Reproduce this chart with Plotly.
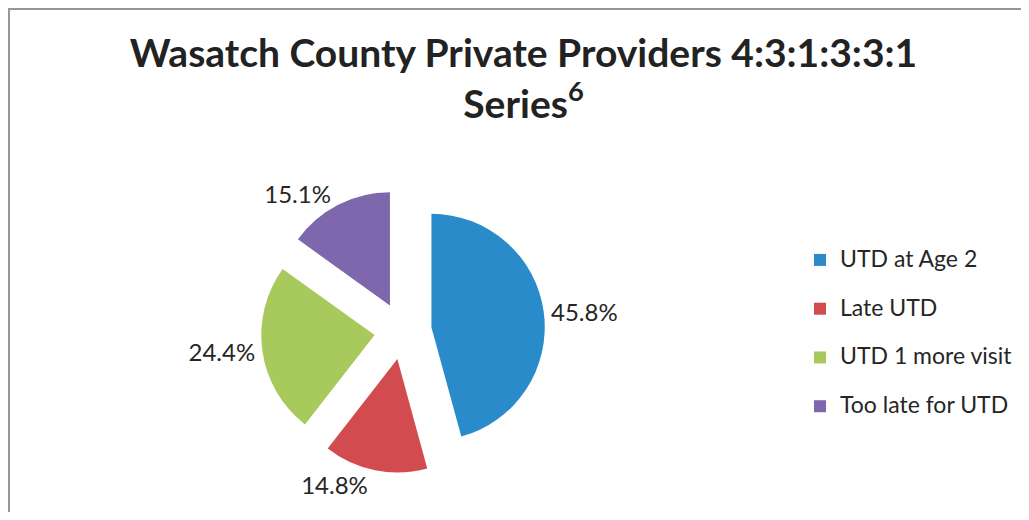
import plotly.graph_objects as go

title_line1 = "Wasatch County Private Providers 4:3:1:3:3:1"
title_line2 = "Series"
title_sup = "6"

labels = ["UTD at Age 2", "Late UTD", "UTD 1 more visit", "Too late for UTD"]
values = [45.8, 14.8, 24.4, 15.1]
colors = ["#2A8BCB", "#D24C4F", "#A8C95B", "#7E67AD"]

FONT = "Lato"
W, H = 1013, 504  # page body has an 8px margin inside the 1029x520 window
legend_labels = ["<span style='font-size:23px'>" + l + "</span><br> " for l in labels]

fig = go.Figure(
    go.Pie(
        labels=legend_labels,
        values=values,
        sort=False,
        direction="clockwise",
        rotation=0,
        pull=[0.253] * len(values),
        marker=dict(colors=colors, line=dict(width=0)),
        texttemplate="%{value:.1f}%",
        textposition="outside",
        outsidetextfont=dict(family=FONT, size=24, color="#262626"),
        hovertemplate="%{value:.1f}%<extra></extra>",
        domain=dict(x=[253 / W, 537 / W], y=[1 - 465 / H, 1 - 181 / H]),
    )
)

fig.update_layout(
    width=W,
    height=H,
    margin=dict(l=0, r=0, t=0, b=0, autoexpand=False),
    paper_bgcolor="white",
    plot_bgcolor="white",
    font=dict(family=FONT, color="#262626"),
    title=dict(
        text=title_line1 + "<br>" + title_line2 + "<sup>" + title_sup + "</sup>",
        font=dict(family=FONT, size=39, color="#222222", weight="bold"),
        x=0.5 + 9 / W,
        xanchor="center",
        y=1 - 59 / H,
        yanchor="top",
        yref="container",
    ),
    legend=dict(
        x=792 / W,
        xanchor="left",
        y=1 - 234 / H,
        yanchor="top",
        font=dict(family=FONT, size=17.6, color="#262626"),
        valign="top",
        bgcolor="rgba(0,0,0,0)",
    ),
    shapes=[
        dict(type="line", xref="paper", yref="paper",
             x0=1 / W, x1=1 / W, y0=-0.2, y1=1,
             line=dict(color="#969696", width=2), layer="below"),
        dict(type="line", xref="paper", yref="paper",
             x0=0, x1=1.2, y0=1 - 1 / H, y1=1 - 1 / H,
             line=dict(color="#969696", width=2), layer="below"),
    ],
)

fig.write_html("out.html")
